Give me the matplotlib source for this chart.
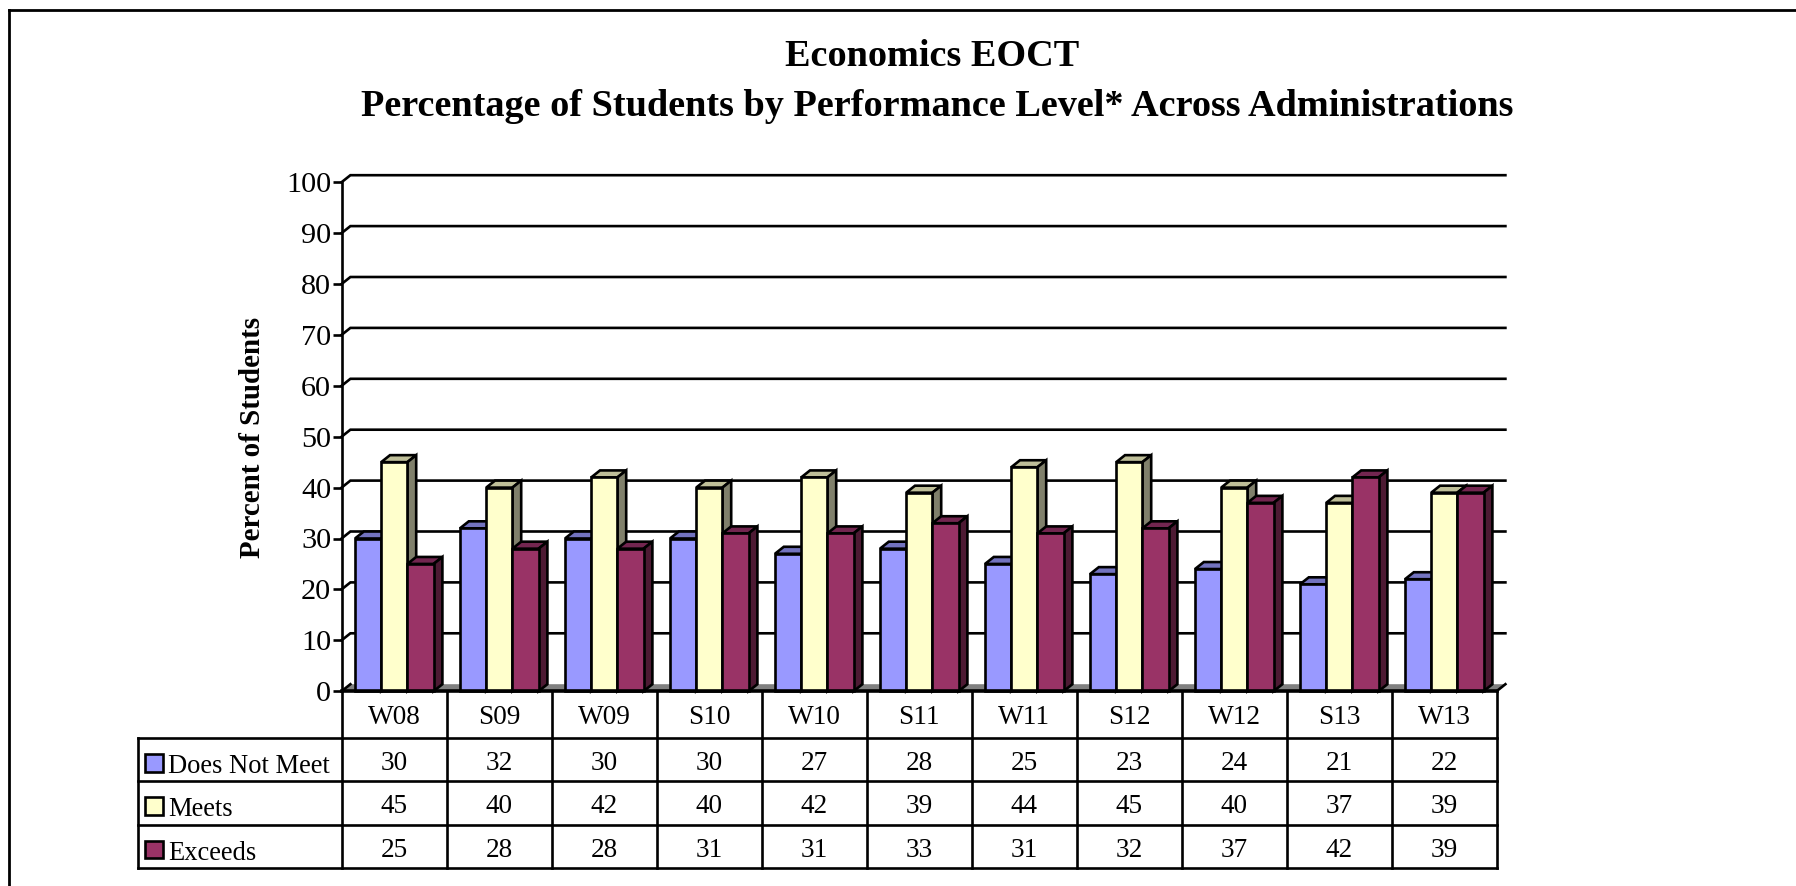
import matplotlib
matplotlib.use("Agg")
import matplotlib.pyplot as plt
from matplotlib.lines import Line2D
from matplotlib.patches import Rectangle

administrations = ["W08", "S09", "W09", "S10", "W10", "S11", "W11", "S12", "W12", "S13", "W13"]
does_not_meet = [30, 32, 30, 30, 27, 28, 25, 23, 24, 21, 22]
meets = [45, 40, 42, 40, 42, 39, 44, 45, 40, 37, 39]
exceeds = [25, 28, 28, 31, 31, 33, 31, 32, 37, 42, 39]
series_names = ["Does Not Meet", "Meets", "Exceeds"]
y_ticks = list(range(0, 101, 10))

W, H = 1796, 886
plt.rcParams["font.family"] = "Liberation Serif"
fig = plt.figure(figsize=(W / 100, H / 100), dpi=100, facecolor="white")
L, R, T, B = 341.6, 1496.6, 182.2, 691.2
ax = fig.add_axes([L / W, 1 - B / H, (R - L) / W, (B - T) / H])
ax.set_xlim(0, len(administrations))
ax.set_ylim(0, 100)
ax.set_facecolor("none")

ux = (R - L) / len(administrations)
uy = (B - T) / 100
dx = 8.8 / ux
dy = 7.0 / uy
bar_w = 26.2 / ux
bar_start = 13.4 / ux

styles = [("#9999FF", "#7373BF", "#4D4D80"),
          ("#FFFFCC", "#BFBF99", "#80806B"),
          ("#993366", "#732650", "#4D1A33")]
values = [does_not_meet, meets, exceeds]
LW = 1.9

# floor
ax.fill([0, dx, len(administrations) + dx, len(administrations)], [0, dy, dy, 0],
        facecolor="#808080", edgecolor="none", clip_on=False, zorder=1)
# gridlines on the back wall
for v in y_ticks[1:]:
    ax.plot([0, dx, len(administrations) + dx], [v, v + dy, v + dy],
            color="black", lw=LW, clip_on=False, zorder=2, solid_joinstyle="miter")
ax.plot([0, dx], [0, dy], color="black", lw=LW, clip_on=False, zorder=2)
ax.plot([len(administrations), len(administrations) + dx], [0, dy],
        color="black", lw=LW, clip_on=False, zorder=2)

z = 3
for i in range(len(administrations)):
    for s in range(3):
        v = values[s][i]
        x0 = i + bar_start + s * bar_w
        x1 = x0 + bar_w
        front, top, side = styles[s]
        ax.fill([x0, x0 + dx, x1 + dx, x1], [v, v + dy, v + dy, v], facecolor=top,
                edgecolor="black", lw=LW, clip_on=False, zorder=z, joinstyle="miter")
        ax.fill([x1, x1 + dx, x1 + dx, x1], [0, dy, v + dy, v], facecolor=side,
                edgecolor="black", lw=LW, clip_on=False, zorder=z, joinstyle="miter")
        ax.bar(x0, v, width=bar_w, align="edge", facecolor=front, edgecolor="black",
               lw=LW, clip_on=False, zorder=z + 0.5)
        z += 1

for name in ["top", "right"]:
    ax.spines[name].set_visible(False)
ax.spines["left"].set_linewidth(LW)
ax.spines["bottom"].set_linewidth(2.6)
ax.spines["left"].set_zorder(z)
ax.spines["bottom"].set_zorder(z)
ax.set_xticks([])
ax.set_yticks(y_ticks)
ax.tick_params(axis="y", length=6.5, width=LW, labelsize=21.8, pad=1.0)


def px(x, y):
    return x / W, 1 - y / H


def hv_line(x0, y0, x1, y1, lw=LW):
    (a, b), (c, d) = px(x0, y0), px(x1, y1)
    fig.add_artist(Line2D([a, c], [b, d], color="black", lw=lw, solid_capstyle="projecting"))


def label(x, y, s, **kw):
    a, b = px(x, y)
    fig.text(a, b, s, **kw)


# table
rows = [691.2, 738.0, 781.3, 824.6, 868.0]
tx0 = 137.7
hv_line(L, rows[0], L, rows[-1])
for y in rows[1:]:
    hv_line(tx0, y, R, y)
hv_line(tx0, rows[1], tx0, rows[-1])
for i in range(1, len(administrations) + 1):
    hv_line(L + i * ux, rows[0], L + i * ux, rows[-1])

TS = 19.6
for i, c in enumerate(administrations):
    cx = L + (i + 0.5) * ux
    label(cx, (rows[0] + rows[1]) / 2 + 3, c, ha="center", va="center", fontsize=TS)
    for s in range(3):
        label(cx, (rows[s + 1] + rows[s + 2]) / 2 + 4, str(values[s][i]),
              ha="center", va="center", fontsize=TS)
for s, name in enumerate(series_names):
    mid = (rows[s + 1] + rows[s + 2]) / 2
    a, b = px(145, mid + 3 + 9)
    fig.add_artist(Rectangle((a, b), 17.7 / W, 17.7 / H, transform=fig.transFigure,
                             facecolor=styles[s][0], edgecolor="black", lw=LW))
    label(168.5, mid + 7, name, ha="left", va="center", fontsize=19.1)

# titles
label(932, 57, "Economics EOCT", ha="center", va="center", fontsize=27.5, fontweight="bold")
label(937, 106, "Percentage of Students by Performance Level* Across Administrations",
      ha="center", va="center", fontsize=27.5, fontweight="bold")
label(252.5, 437, "Percent of Students", ha="center", va="center", rotation=90,
      fontsize=20.9, fontweight="bold")

# outer frame
hv_line(9, 10, W, 10, lw=2.0)
hv_line(9, 10, 9, H, lw=2.0)

fig.savefig("out.png", dpi=100, facecolor="white")
